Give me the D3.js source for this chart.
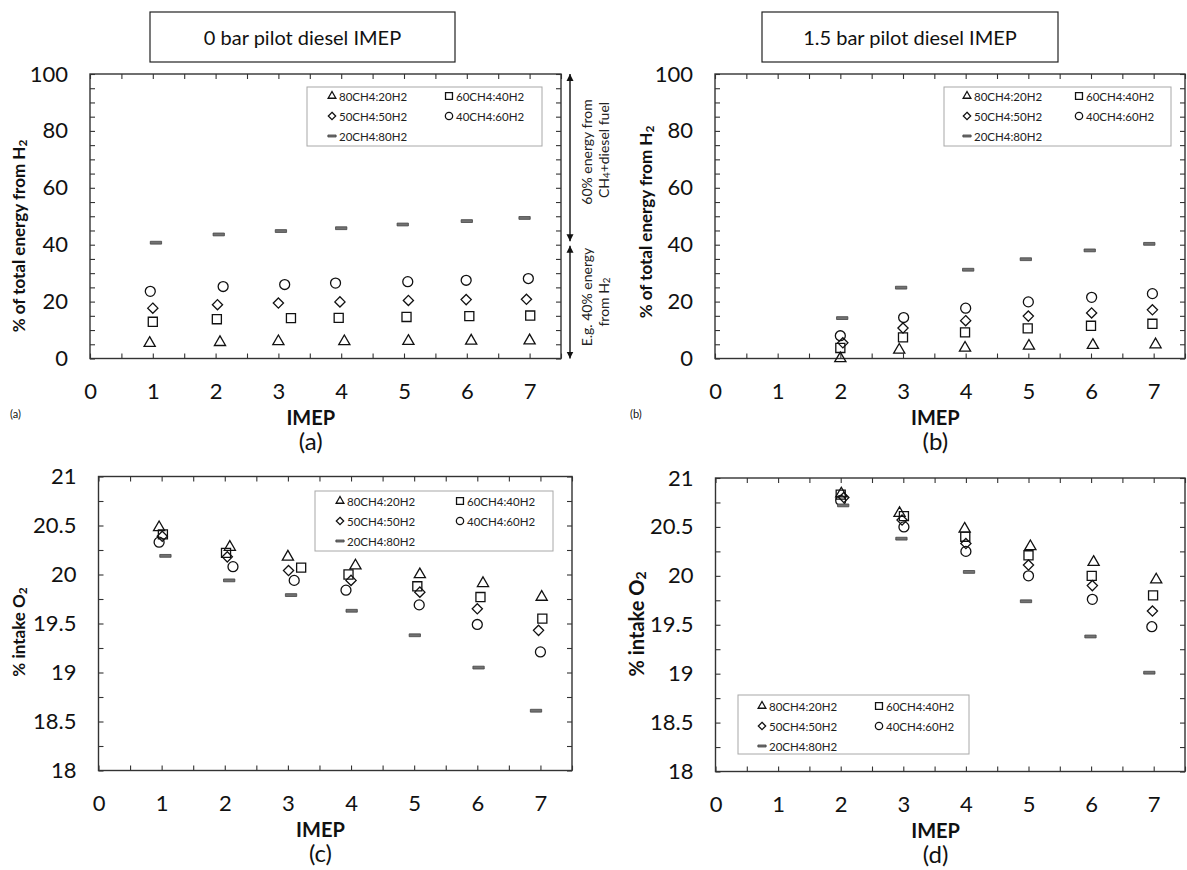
<!DOCTYPE html>
<html>
<head>
<meta charset="utf-8">
<script src="https://cdn.jsdelivr.net/npm/d3@7"></script>
<style>
  body { margin: 0; background: #fff; }
  svg { display: block; font-family: Lato, "Open Sans", sans-serif; }
</style>
</head>
<body>
<svg id="chart" width="1187" height="870"></svg>
<script>
// ---- Series (fuel blends) ----
const seriesNames = ["80CH4:20H2", "60CH4:40H2", "50CH4:50H2", "40CH4:60H2", "20CH4:80H2"];
const seriesShapes = ["tri", "sq", "dia", "circ", "dash"];

// ---- (a) 0 bar pilot diesel: % of total energy from H2 ----
const aX_80_20 = [0.95, 2.07, 3.00, 4.05, 5.07, 6.07, 7.00];
const aY_80_20 = [5.4, 5.7, 6.0, 6.0, 6.1, 6.2, 6.3];
const aX_60_40 = [1.00, 2.02, 3.20, 3.96, 5.04, 6.04, 7.01];
const aY_60_40 = [12.9, 13.8, 14.2, 14.3, 14.6, 14.9, 15.1];
const aX_50_50 = [1.00, 2.03, 3.00, 3.98, 5.07, 5.99, 6.95];
const aY_50_50 = [17.7, 18.9, 19.5, 19.9, 20.4, 20.7, 20.8];
const aX_40_60 = [0.96, 2.12, 3.10, 3.91, 5.06, 5.99, 6.98];
const aY_40_60 = [23.6, 25.3, 26.0, 26.5, 27.0, 27.5, 28.1];
const aX_20_80 = [1.05, 2.05, 3.04, 4.00, 4.98, 6.00, 6.92];
const aY_20_80 = [40.7, 43.6, 44.8, 45.8, 47.1, 48.3, 49.4];

// ---- (b) 1.5 bar pilot diesel: % of total energy from H2 ----
const bX_80_20 = [2.00, 2.94, 3.99, 5.01, 6.03, 7.03];
const bY_80_20 = [0.0, 3.0, 3.7, 4.4, 4.7, 4.9];
const bX_60_40 = [2.00, 3.00, 3.99, 4.99, 6.00, 6.98];
const bY_60_40 = [3.7, 7.4, 9.2, 10.6, 11.5, 12.2];
const bX_50_50 = [2.04, 3.00, 4.00, 5.00, 6.01, 6.98];
const bY_50_50 = [5.5, 10.7, 13.3, 14.9, 16.0, 17.1];
const bX_40_60 = [2.00, 3.01, 4.00, 5.00, 6.01, 6.98];
const bY_40_60 = [8.0, 14.4, 17.7, 19.9, 21.5, 22.8];
const bX_20_80 = [2.03, 2.97, 4.04, 4.96, 5.98, 6.93];
const bY_20_80 = [14.2, 24.9, 31.2, 34.9, 38.0, 40.3];

// ---- (c) 0 bar pilot diesel: % intake O2 ----
const cX_80_20 = [0.96, 2.08, 3.00, 4.07, 5.09, 6.09, 7.02];
const cY_80_20 = [20.48, 20.28, 20.18, 20.09, 20.00, 19.91, 19.77];
const cX_60_40 = [1.02, 2.02, 3.21, 3.96, 5.05, 6.05, 7.03];
const cY_60_40 = [20.41, 20.22, 20.07, 20.00, 19.88, 19.77, 19.55];
const cX_50_50 = [1.01, 2.04, 3.01, 4.00, 5.09, 6.00, 6.97];
const cY_50_50 = [20.39, 20.18, 20.04, 19.94, 19.82, 19.65, 19.43];
const cX_40_60 = [0.96, 2.13, 3.10, 3.92, 5.08, 6.00, 7.00];
const cY_40_60 = [20.33, 20.08, 19.94, 19.84, 19.69, 19.49, 19.21];
const cX_20_80 = [1.06, 2.07, 3.05, 4.01, 5.01, 6.02, 6.93];
const cY_20_80 = [20.19, 19.94, 19.79, 19.63, 19.38, 19.05, 18.61];

// ---- (d) 1.5 bar pilot diesel: % intake O2 ----
const dX_80_20 = [2.01, 2.94, 3.98, 5.03, 6.04, 7.04];
const dY_80_20 = [20.84, 20.64, 20.48, 20.30, 20.14, 19.96];
const dX_60_40 = [2.00, 3.01, 3.99, 5.00, 6.01, 6.99];
const dY_60_40 = [20.83, 20.61, 20.40, 20.21, 20.00, 19.80];
const dX_50_50 = [2.05, 2.98, 4.00, 5.00, 6.02, 6.98];
const dY_50_50 = [20.80, 20.57, 20.33, 20.11, 19.90, 19.64];
const dX_40_60 = [2.00, 3.01, 4.00, 5.00, 6.02, 6.97];
const dY_40_60 = [20.77, 20.50, 20.25, 20.00, 19.76, 19.48];
const dX_20_80 = [2.04, 2.97, 4.05, 4.96, 5.99, 6.93];
const dY_20_80 = [20.72, 20.38, 20.04, 19.74, 19.38, 19.01];

// ---- Axis ticks ----
const xTickLabels = [0, 1, 2, 3, 4, 5, 6, 7];
const xMinorTicks = d3.range(0, 7.51, 0.5);
const energyTickLabels = [0, 20, 40, 60, 80, 100];
const energyMinorTicks = d3.range(0, 100.1, 5);
const o2TickLabels = [18, 18.5, 19, 19.5, 20, 20.5, 21];
const o2MinorTicks = d3.range(18, 21.01, 0.25);

// ---- Marker shapes ----
const diamond = { draw(c, s) { const r = Math.sqrt(s / 2); c.moveTo(0, -r); c.lineTo(r, 0); c.lineTo(0, r); c.lineTo(-r, 0); c.closePath(); } };
const dashBar = { draw(c, s) { const w = Math.sqrt(s) * 2, h = w / 4; c.rect(-w / 2, -h / 2, w, h); } };
const shapeTypes = { tri: d3.symbolTriangle, sq: d3.symbolSquare, dia: diamond, circ: d3.symbolCircle, dash: dashBar };
const plotSizes = { tri: 54, sq: 82, dia: 52, circ: 78, dash: 32 };
const legendSizes = { tri: 26, sq: 48, dia: 27, circ: 42, dash: 17 };

function markerPath(shape, size) { return d3.symbol().type(shapeTypes[shape]).size(size)(); }
function styleMarker(sel, shape) {
  if (shape === "dash") sel.attr("fill", "#727272").attr("stroke", "#444").attr("stroke-width", 0.8);
  else sel.attr("fill", "none").attr("stroke", "#111").attr("stroke-width", 1.3);
}

const svg = d3.select("#chart");

function addSubText(sel, parts) {
  parts.forEach(p => {
    const t = sel.append("tspan").text(p.t);
    if (p.sub) t.attr("font-size", "70%").attr("dy", p.dy);
    else if (p.dy) t.attr("dy", p.dy);
  });
}

function drawPanel(p) {
  const g = svg.append("g");
  const x = d3.scaleLinear().domain([0, 7.5]).range([p.left, p.right]);
  const y = d3.scaleLinear().domain(p.yDomain).range([p.bottom, p.top]);

  // inward ticks on all four sides
  const tk = 5;
  const tickStyle = s => { s.select(".domain").remove(); s.selectAll("line").attr("stroke", "#333").attr("stroke-width", 1.1); };
  g.append("g").attr("transform", `translate(0,${p.bottom})`).call(d3.axisTop(x).tickValues(xMinorTicks).tickSize(tk).tickFormat("")).call(tickStyle);
  g.append("g").attr("transform", `translate(0,${p.top})`).call(d3.axisBottom(x).tickValues(xMinorTicks).tickSize(tk).tickFormat("")).call(tickStyle);
  g.append("g").attr("transform", `translate(${p.left},0)`).call(d3.axisRight(y).tickValues(p.yMinor).tickSize(tk).tickFormat("")).call(tickStyle);
  g.append("g").attr("transform", `translate(${p.right},0)`).call(d3.axisLeft(y).tickValues(p.yMinor).tickSize(tk).tickFormat("")).call(tickStyle);

  // frame
  g.append("rect").attr("x", p.left).attr("y", p.top)
    .attr("width", p.right - p.left).attr("height", p.bottom - p.top)
    .attr("fill", "none").attr("stroke", "#333").attr("stroke-width", 1.4);

  // tick labels
  const lab = s => { s.select(".domain").remove(); s.selectAll("text").attr("font-size", 22).attr("fill", "#111").attr("font-family", "Lato, sans-serif"); };
  g.append("g").attr("transform", `translate(0,${p.bottom})`)
    .call(d3.axisBottom(x).tickValues(xTickLabels).tickSize(0).tickPadding(25).tickFormat(d3.format("d"))).call(lab);
  g.append("g").attr("transform", `translate(${p.left},0)`)
    .call(d3.axisLeft(y).tickValues(p.yLabels).tickSize(0).tickPadding(22).tickFormat(d => String(d))).call(lab);

  // axis titles
  g.append("text").attr("x", (x(0) + x(7)) / 2 + 1).attr("y", p.bottom + 58)
    .attr("text-anchor", "middle").attr("dominant-baseline", "central")
    .attr("font-size", 20).attr("font-weight", 700).attr("fill", "#111").text("IMEP");
  g.append("text").attr("x", (x(0) + x(7)) / 2 + 1).attr("y", p.bottom + 82)
    .attr("text-anchor", "middle").attr("dominant-baseline", "central")
    .attr("font-size", 24).attr("fill", "#111").text(p.caption);
  const yt = g.append("text")
    .attr("transform", `translate(${p.yTitleX},${p.yTitleY}) rotate(-90)`)
    .attr("text-anchor", "middle").attr("dominant-baseline", "central")
    .attr("font-size", p.yTitleSize).attr("font-weight", 700).attr("fill", "#111");
  addSubText(yt, p.yTitle);

  // data points
  p.series.forEach((s, i) => {
    const shape = seriesShapes[i];
    const pts = s.x.map((xv, j) => ({ x: xv, y: s.y[j] }));
    g.append("g").selectAll("path").data(pts).join("path")
      .attr("transform", d => `translate(${x(d.x)},${y(d.y)})`)
      .attr("d", markerPath(shape, plotSizes[shape]))
      .call(sel => styleMarker(sel, shape));
  });

  // legend
  const L = p.legend;
  const lg = g.append("g");
  lg.append("rect").attr("x", L.x0).attr("y", L.y0).attr("width", L.x1 - L.x0).attr("height", L.y1 - L.y0)
    .attr("fill", "#fff").attr("stroke", "#a8a8a8").attr("stroke-width", 1);
  const slots = [[0, 0], [1, 0], [0, 1], [1, 1], [0, 2]];
  seriesNames.forEach((name, i) => {
    const [c, r] = slots[i];
    const mx = L.cols[c], my = L.rows[r], shape = seriesShapes[i];
    lg.append("path").attr("transform", `translate(${mx},${my})`)
      .attr("d", markerPath(shape, legendSizes[shape])).call(sel => styleMarker(sel, shape));
    lg.append("text").attr("x", mx + 7).attr("y", my).attr("dominant-baseline", "central")
      .attr("font-size", 11.5).attr("fill", "#222").text(name);
  });

  // small panel tag
  if (p.tag) {
    g.append("text").attr("x", p.tag.x).attr("y", p.tag.y).attr("dominant-baseline", "central")
      .attr("font-size", 11).attr("fill", "#111").text(p.tag.t);
  }
  return { x, y, g };
}

const h2Title = [{ t: "% of total energy from H" }, { t: "2", sub: true, dy: 4 }];
const o2Title = [{ t: "% intake O" }, { t: "2", sub: true, dy: 4 }];

const pa = drawPanel({
  left: 90, right: 561, top: 74, bottom: 358.5, yDomain: [0, 100],
  yMinor: energyMinorTicks, yLabels: energyTickLabels, caption: "(a)",
  yTitle: h2Title, yTitleX: 18, yTitleY: 236, yTitleSize: 17,
  series: [{ x: aX_80_20, y: aY_80_20 }, { x: aX_60_40, y: aY_60_40 }, { x: aX_50_50, y: aY_50_50 }, { x: aX_40_60, y: aY_40_60 }, { x: aX_20_80, y: aY_20_80 }],
  legend: { x0: 307, y0: 87, x1: 542, y1: 146, cols: [332, 449], rows: [96, 116, 136] },
  tag: { x: 10, y: 413, t: "(a)" }
});
drawPanel({
  left: 715, right: 1185, top: 74, bottom: 358.5, yDomain: [0, 100],
  yMinor: energyMinorTicks, yLabels: energyTickLabels, caption: "(b)",
  yTitle: h2Title, yTitleX: 645, yTitleY: 222, yTitleSize: 17,
  series: [{ x: bX_80_20, y: bY_80_20 }, { x: bX_60_40, y: bY_60_40 }, { x: bX_50_50, y: bY_50_50 }, { x: bX_40_60, y: bY_40_60 }, { x: bX_20_80, y: bY_20_80 }],
  legend: { x0: 944, y0: 87, x1: 1171, y1: 146, cols: [967, 1079], rows: [96, 116, 136] },
  tag: { x: 630, y: 413, t: "(b)" }
});
drawPanel({
  left: 98.5, right: 572, top: 476.5, bottom: 770.5, yDomain: [18, 21],
  yMinor: o2MinorTicks, yLabels: o2TickLabels, caption: "(c)",
  yTitle: o2Title, yTitleX: 18, yTitleY: 632, yTitleSize: 17,
  series: [{ x: cX_80_20, y: cY_80_20 }, { x: cX_60_40, y: cY_60_40 }, { x: cX_50_50, y: cY_50_50 }, { x: cX_40_60, y: cY_40_60 }, { x: cX_20_80, y: cY_20_80 }],
  legend: { x0: 315, y0: 491, x1: 553, y1: 551, cols: [340, 460], rows: [501, 521, 541] }
});
drawPanel({
  left: 715.5, right: 1185, top: 478, bottom: 771.5, yDomain: [18, 21],
  yMinor: o2MinorTicks, yLabels: o2TickLabels, caption: "(d)",
  yTitle: o2Title, yTitleX: 636, yTitleY: 624, yTitleSize: 20,
  series: [{ x: dX_80_20, y: dY_80_20 }, { x: dX_60_40, y: dY_60_40 }, { x: dX_50_50, y: dY_50_50 }, { x: dX_40_60, y: dY_40_60 }, { x: dX_20_80, y: dY_20_80 }],
  legend: { x0: 738, y0: 695, x1: 969, y1: 754, cols: [762, 879], rows: [706, 726, 746] }
});

// ---- Header boxes ----
const headers = [
  { x0: 150, x1: 455, t: "0 bar pilot diesel IMEP" },
  { x0: 762, x1: 1058, t: "1.5 bar pilot diesel IMEP" }
];
headers.forEach(h => {
  svg.append("rect").attr("x", h.x0).attr("y", 12).attr("width", h.x1 - h.x0).attr("height", 50)
    .attr("fill", "#fff").attr("stroke", "#222").attr("stroke-width", 1.2);
  svg.append("text").attr("x", (h.x0 + h.x1) / 2).attr("y", 37).attr("text-anchor", "middle")
    .attr("dominant-baseline", "central").attr("font-size", 20).attr("fill", "#111").text(h.t);
});

// ---- Energy-share brackets beside panel (a) ----
const ay = pa.y, arrowX = 570;
const defs = svg.append("defs");
defs.append("marker").attr("id", "head").attr("viewBox", "0 0 10 10").attr("refX", 10).attr("refY", 5)
  .attr("markerWidth", 7).attr("markerHeight", 9).attr("markerUnits", "userSpaceOnUse").attr("orient", "auto-start-reverse")
  .append("path").attr("d", "M0,0 L10,5 L0,10 Z").attr("fill", "#111");
[[100, 41.2], [39.6, 0]].forEach(([a, b]) => {
  svg.append("line").attr("x1", arrowX).attr("x2", arrowX).attr("y1", ay(a)).attr("y2", ay(b))
    .attr("stroke", "#111").attr("stroke-width", 1.4)
    .attr("marker-start", "url(#head)").attr("marker-end", "url(#head)");
});
function sideNote(cx, cy, parts) {
  const t = svg.append("text").attr("transform", `translate(${cx},${cy}) rotate(-90)`)
    .attr("text-anchor", "middle").attr("dominant-baseline", "central")
    .attr("font-size", 14).attr("fill", "#222");
  addSubText(t, parts);
}
sideNote(586, 152, [{ t: "60% energy from" }]);
sideNote(603, 150, [{ t: "CH" }, { t: "4", sub: true, dy: 3 }, { t: "+diesel fuel", dy: -3 }]);
sideNote(586, 297, [{ t: "E.g. 40% energy" }]);
sideNote(603, 302, [{ t: "from H" }, { t: "2", sub: true, dy: 3 }]);
</script>
</body>
</html>
